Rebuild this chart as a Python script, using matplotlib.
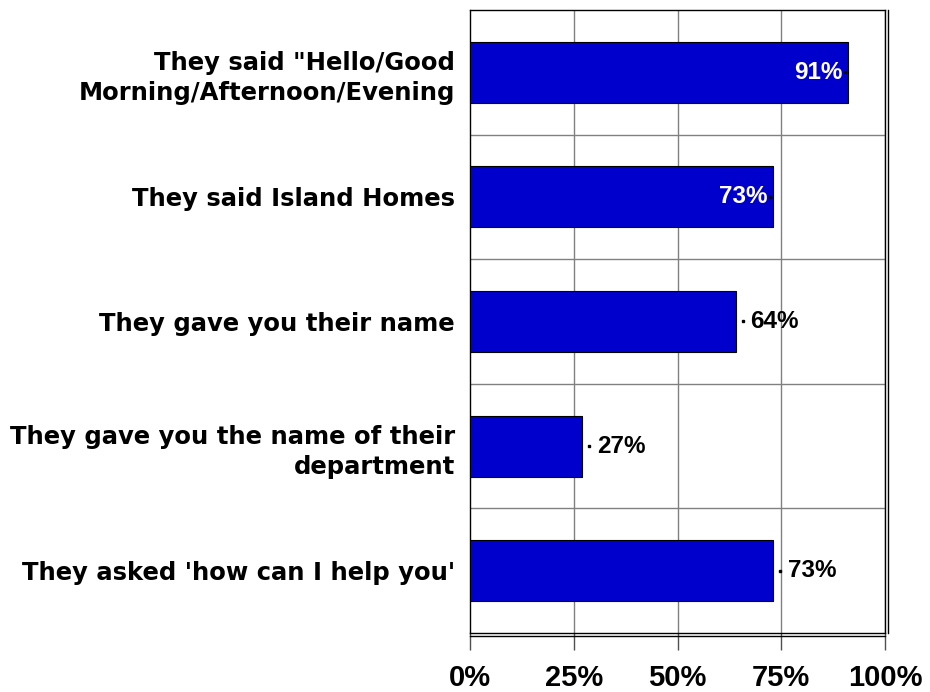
import matplotlib.pyplot as plt
from matplotlib.lines import Line2D
import matplotlib.transforms as mtransforms

## survey answers, top to bottom
categories = ['They said "Hello/Good\nMorning/Afternoon/Evening',
              'They said Island Homes',
              'They gave you their name',
              'They gave you the name of their\ndepartment',
              "They asked 'how can I help you'"]
values = [91, 73, 64, 27, 73]
inside = [True, True, False, False, False]
xticks = [0, 25, 50, 75, 100]
xticklabels = ['0%', '25%', '50%', '75%', '100%']

plt.rcParams['font.family'] = ['Liberation Sans', 'DejaVu Sans']

fig = plt.figure(figsize=(9.3, 6.92), dpi=100)
ax = fig.add_axes([470/930, 1-633/692, 415/930, 623/692])

ypos = list(range(len(values)))
ax.barh(ypos, values, height=0.49, color='#0000CC', edgecolor='black', linewidth=0.8, zorder=3)
ax.set_xlim(0, 100)
ax.set_ylim(len(values)-0.5, -0.5)

## grid lines: vertical at ticks, horizontal between the bars
for x in xticks[1:]:
    ax.axvline(x, color='#808080', linewidth=1.0, zorder=1)
for k in range(len(values)-1):
    ax.axhline(k+0.5, color='#808080', linewidth=1.0, zorder=1)

for s in ['top', 'left', 'right', 'bottom']:
    ax.spines[s].set_color('black')
    ax.spines[s].set_linewidth(1.0)

## double line on the right and bottom edges
right2 = mtransforms.offset_copy(ax.transAxes, fig=fig, x=3/100*72, y=0, units='points')
ax.add_line(Line2D([1, 1], [0, 1], transform=right2, color='black', linewidth=1.0, clip_on=False))
bot2 = mtransforms.offset_copy(ax.transAxes, fig=fig, x=0, y=-3/100*72, units='points')
ax.add_line(Line2D([0, 1], [0, 0], transform=bot2, color='black', linewidth=1.0, clip_on=False))

ax.set_xticks(xticks)
ax.set_xticklabels(xticklabels, fontsize=21, fontweight='bold')
ax.tick_params(axis='x', direction='out', length=12, width=1.0, color='#505050', pad=10)
ax.set_yticks(ypos)
ax.set_yticklabels(categories, fontsize=17.5, fontweight='bold', linespacing=1.32,
                   family=['DejaVu Sans'])
ax.tick_params(axis='y', length=0, pad=11)

for i, v in enumerate(values):
    if inside[i]:
        ax.plot([v-0.6], [i], marker='s', markersize=1.6, color='black', zorder=4)
        ax.text(v-1.2, i, f'{v}%', color='white', fontsize=17.5, fontweight='bold',
                ha='right', va='center', zorder=4)
    else:
        ax.plot([v+1.7], [i], marker='s', markersize=1.6, color='black', zorder=4)
        ax.text(v+3.6, i, f'{v}%', color='black', fontsize=17.5, fontweight='bold',
                ha='left', va='center', zorder=4)

plt.savefig('out.png', dpi=100)
